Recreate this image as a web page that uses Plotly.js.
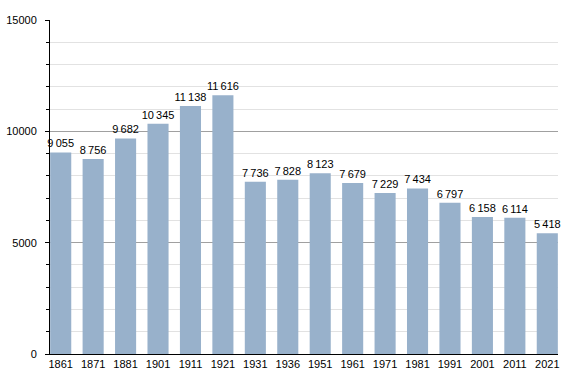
<!DOCTYPE html>
<html><head><meta charset="utf-8">
<script src="https://cdn.plot.ly/plotly-3.0.1.min.js"></script>
<style>html,body{margin:0;padding:0;background:#fff}#c{width:588px;height:373px}</style>
</head><body><div id="c"></div>
<script>
const years = ["1861","1871","1881","1901","1911","1921","1931","1936","1951","1961","1971","1981","1991","2001","2011","2021"];
const population = [9055,8756,9682,10345,11138,11616,7736,7828,8123,7679,7229,7434,6797,6158,6114,5418];
const yTicks = [0,5000,10000,15000];

function fmt(v){ return String(v).replace(/\B(?=(\d{3})+(?!\d))/g, "\u2009"); }

Plotly.newPlot("c", [{
  type: "bar",
  x: years,
  y: population,
  text: population.map(fmt),
  textposition: "outside",
  constraintext: "none",
  cliponaxis: false,
  textfont: {family: "Liberation Sans, Arial, sans-serif", size: 11, color: "#000"},
  marker: {color: "#98b1cb"},
  hoverinfo: "none"
}], {
  width: 588, height: 373,
  margin: {l: 50, r: 30, t: 20, b: 19},
  paper_bgcolor: "#fff", plot_bgcolor: "#fff",
  bargap: 0.35,
  showlegend: false,
  font: {family: "Liberation Sans, Arial, sans-serif", size: 11, color: "#000"},
  xaxis: {
    type: "category",
    range: [-0.33, 15.33],
    showline: true, linecolor: "#000", linewidth: 1,
    ticks: "", showgrid: false,
    tickfont: {size: 11}
  },
  yaxis: {
    range: [0, 15000],
    tickvals: yTicks,
    ticktext: yTicks.map(String),
    showline: true, linecolor: "#000", linewidth: 1,
    ticks: "outside", ticklen: 4, tickcolor: "#000",
    ticklabelstandoff: 6,
    showgrid: true, gridcolor: "#a0a0a0", gridwidth: 1,
    zeroline: false,
    minor: {dtick: 1000, showgrid: true, gridcolor: "#e2e2e2", ticks: "outside", ticklen: 3, tickcolor: "#000"},
    tickfont: {size: 11}
  }
}, {staticPlot: true});
</script>
</body></html>
